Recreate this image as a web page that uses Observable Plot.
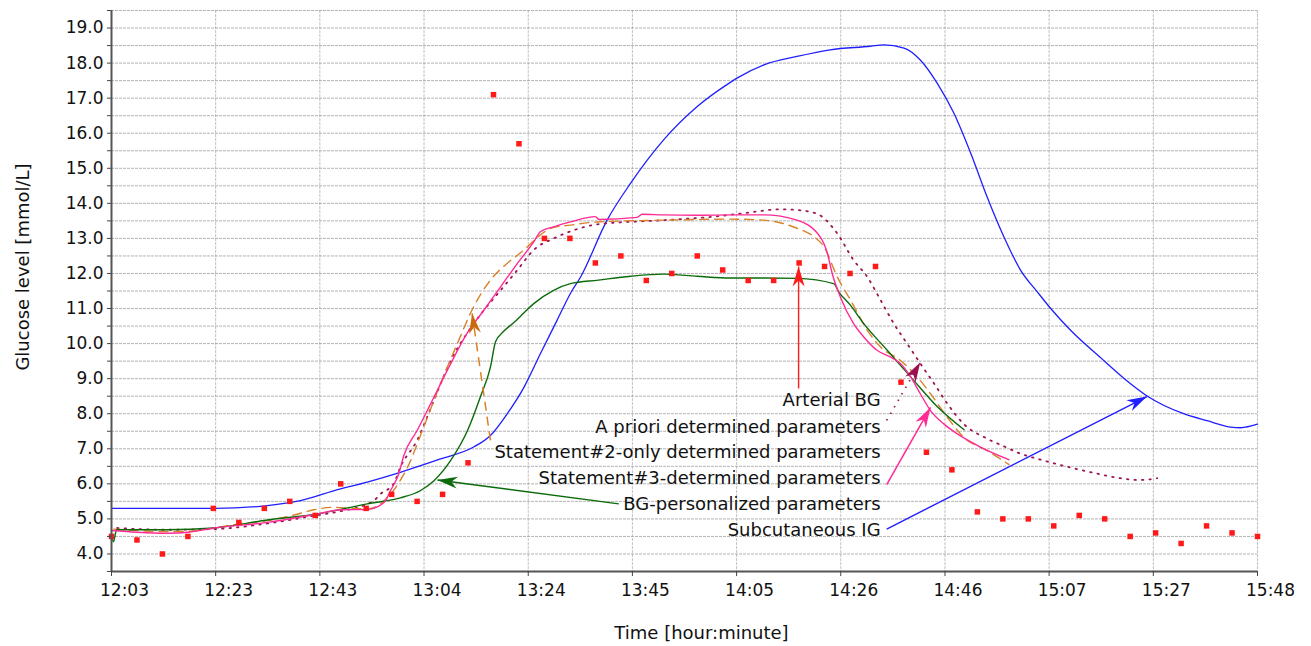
<!DOCTYPE html>
<html>
<head>
<meta charset="utf-8">
<script src="https://cdn.jsdelivr.net/npm/d3@7"></script>
<script src="https://cdn.jsdelivr.net/npm/@observablehq/plot@0.6"></script>
<style>
  html, body { margin: 0; padding: 0; background: #fff; }
</style>
</head>
<body>
<div id="chart"></div>
<script>
// ---------- DATA (x = minutes after 12:03, y = glucose mmol/L) ----------
const xTickMinutes = [0, 20.45, 40.91, 61.36, 81.82, 102.27, 122.73, 143.18, 163.64, 184.09, 204.55, 225];
const xTickLabels = ["12:03","12:23","12:43","13:04","13:24","13:45","14:05","14:26","14:46","15:07","15:27","15:48"];
const yMajorTicks = [4,5,6,7,8,9,10,11,12,13,14,15,16,17,18,19];

const arterialTimes = [0,5,10,15,20,25,30,35,40,45,50,55,60,65,70,75,80,85,90,95,100,105,110,115,120,125,130,135,140,145,150,155,160,165,170,175,180,185,190,195,200,205,210,215,220,225];
const arterialBG = [4.5,4.4,4.0,4.5,5.3,4.9,5.3,5.5,5.1,6.0,5.3,5.7,5.5,5.7,6.6,17.1,15.7,13.0,13.0,12.3,12.5,11.8,12.0,12.5,12.1,11.8,11.8,12.3,12.2,12.0,12.2,8.9,6.9,6.4,5.2,5.0,5.0,4.8,5.1,5.0,4.5,4.6,4.3,4.8,4.6,4.5];

const subcutaneousIG = [[0,5.3],[10,5.3],[20.1,5.3],[30.6,5.38],[37.1,5.52],[43.6,5.8],[50.2,6.05],[56.7,6.33],[64.6,6.71],[71.1,7.05],[74.4,7.38],[77.7,8.0],[81.0,8.76],[84.2,9.71],[87.5,10.67],[90.1,11.43],[92.1,11.9],[97.3,13.52],[101.9,14.57],[108.4,15.81],[115.0,16.76],[121.5,17.45],[122.8,17.57],[128.1,17.95],[134.6,18.19],[141.1,18.38],[149.0,18.48],[151.6,18.52],[155.6,18.43],[158.8,18.09],[162.1,17.43],[165.4,16.57],[168.7,15.43],[171.9,14.19],[175.2,13.05],[178.5,12.09],[181.8,11.47],[184.4,11.0],[188.3,10.38],[194.8,9.52],[199.1,8.97],[203.4,8.5],[210.5,8.0],[215.1,7.8],[219.7,7.62],[221.7,7.6],[225,7.7]];

const bgPersonalized = [[0,4.5],[0.4,4.35],[1.0,4.69],[10.9,4.69],[20.1,4.74],[30.6,4.97],[40.4,5.14],[50.2,5.43],[56.7,5.6],[60.7,5.81],[63.3,6.09],[66.6,6.67],[69.9,7.52],[72.4,8.47],[74.4,9.33],[75.4,10.05],[77.0,10.35],[79.0,10.6],[81.0,10.88],[82.9,11.14],[86.8,11.52],[90.1,11.71],[95.6,11.81],[101.9,11.92],[108.4,11.98],[115.0,11.92],[121.5,11.87],[128.1,11.87],[134.6,11.86],[141.8,11.71],[142.8,11.47],[145.1,11.09],[147.7,10.57],[152.3,9.81],[156.9,9.05],[162.2,8.19],[167.4,7.54]];

const statement3 = [[0,4.67],[5,4.62],[10.9,4.59],[15.1,4.62],[20.1,4.74],[30.6,4.9],[40.4,5.14],[45,5.26],[50.2,5.27],[53.5,5.47],[54.8,5.81],[56.4,6.29],[57.4,6.81],[60.0,7.52],[63.3,8.47],[66.6,9.43],[69.8,10.29],[73.1,10.95],[76.4,11.62],[79.7,12.29],[82.9,12.9],[84.2,13.19],[86.8,13.33],[90.1,13.47],[95.0,13.62],[95.7,13.54],[103.2,13.6],[104.2,13.69],[108.4,13.67],[115.0,13.66],[121.5,13.67],[128.1,13.67],[134.6,13.52],[139.2,13.03],[140.5,12.6],[141.5,12.0],[143.1,11.33],[145.7,10.57],[147.7,10.19],[150.3,9.81],[152.9,9.62],[154.9,9.43],[156.9,9.05],[158.8,8.57],[160.8,8.09],[163.4,7.71],[166.0,7.43],[170.6,7.05],[176.2,6.69]];

const statement2 = [[0.5,4.71],[10.9,4.64],[15.5,4.65],[20.1,4.74],[25.3,4.86],[30.6,4.95],[35.8,5.11],[39.7,5.26],[43.6,5.33],[47.6,5.3],[50.2,5.29],[54.8,5.71],[58.1,6.47],[61.3,7.62],[64.6,8.86],[67.9,10.0],[71.1,11.05],[74.4,11.81],[77.7,12.29],[81.0,12.67],[84.2,13.1],[86.5,13.3],[90.1,13.38],[95.4,13.47],[108.4,13.52],[121.5,13.55],[128.1,13.52],[134.6,13.29],[137.9,13.05],[139.9,12.76],[142.5,11.9],[145.1,11.24],[148.4,10.38],[151.0,9.9],[154.9,9.52],[158.2,9.05],[160.8,8.57],[164.1,7.9],[167.3,7.33],[171.9,6.95],[176.2,6.55]];

const aPriori = [[1.1,4.74],[10.9,4.69],[20.1,4.71],[30.6,4.87],[39.7,5.09],[45,5.22],[51.5,5.52],[52.8,5.71],[55.4,6.0],[56.7,6.47],[60.0,7.24],[63.3,8.38],[66.6,9.52],[69.8,10.29],[73.1,10.95],[76.4,11.52],[79.7,12.1],[82.9,12.67],[86.8,13.0],[90.1,13.2],[95.4,13.4],[108.4,13.52],[118.3,13.62],[124.8,13.73],[131.3,13.83],[134.6,13.81],[138.4,13.71],[142.5,13.14],[145.7,12.38],[148.4,11.9],[151.0,11.24],[153.6,10.57],[156.2,10.0],[158.8,9.43],[161.5,8.86],[164.1,8.29],[167.3,7.71],[171.9,7.29],[175.2,7.07],[178.5,6.86],[182.4,6.69],[187.6,6.49],[192.9,6.31],[198.1,6.16],[201.4,6.11],[203.4,6.12],[205.3,6.16]];

const labelNames = ["Arterial BG","A priori determined parameters","Statement#2-only determined parameters","Statement#3-determined parameters","BG-personalized parameters","Subcutaneous IG"];
const labelX = 151.0;
const labelY = [8.38, 7.62, 6.9, 6.16, 5.43, 4.67];
// arrow from label (start) to curve (end)
const arrowStart = [[134.9,8.72],[152.2,7.81],[74.4,7.24],[152.2,5.98],[99.6,5.43],[152.2,4.71]];
const arrowEnd   = [[134.9,12.2],[158.8,9.47],[70.8,10.86],[160.8,8.18],[64.0,6.11],[203.3,8.49]];

// ---------- STYLES ----------
const C = {
  red: "#ff1a1a", blue: "#1f1fff", green: "#0b6b0b", pink: "#ff2a95",
  orange: "#d9822b", orangeHead: "#c86a10", maroon: "#9b1552", maroonHead: "#9b1050"
};
const arrowStyle = [
  {stroke: C.red, head: C.red, dash: null, width: 1.4},
  {stroke: C.maroon, head: C.maroonHead, dash: "1.5,6", width: 1.8},
  {stroke: C.orange, head: C.orangeHead, dash: "9,6", width: 1.5},
  {stroke: C.pink, head: C.pink, dash: null, width: 1.5},
  {stroke: C.green, head: C.green, dash: null, width: 1.4},
  {stroke: C.blue, head: C.blue, dash: null, width: 1.4}
];

const W = 1311, H = 646, ML = 111, MR = 54, MT = 10, MB = 75;
const X0 = 0, X1 = 225, Y0 = 3.5, Y1 = 19.5;
const kx = (W - ML - MR) / (X1 - X0);
const ky = (H - MT - MB) / (Y1 - Y0);

const arrows = labelNames.map((name, i) => ({
  i, name,
  x1: arrowStart[i][0], y1: arrowStart[i][1],
  x2: arrowEnd[i][0], y2: arrowEnd[i][1],
  angle: Math.atan2((arrowEnd[i][0] - arrowStart[i][0]) * kx, (arrowEnd[i][1] - arrowStart[i][1]) * ky) * 180 / Math.PI
}));
const labels = labelNames.map((t, i) => ({t, x: labelX, y: labelY[i]}));
const arterial = arterialTimes.map((t, i) => ({t, v: arterialBG[i]}));

const headSymbol = {
  draw(ctx, size) {
    const L = 20, Wd = 6, N = 14;
    ctx.moveTo(0, 0);
    ctx.lineTo(-Wd, L);
    ctx.lineTo(0, N);
    ctx.lineTo(Wd, L);
    ctx.closePath();
  }
};

const yGridVals = d3.range(4, 19.51, 0.5);
const yTickVals = d3.range(3.5, 19.51, 0.5);

const px = d => d[0], py = d => d[1];

const marks = [
  Plot.gridY(yGridVals, {stroke: "#9a9a9a", strokeOpacity: 0.75, strokeDasharray: "3,1"}),
  Plot.gridX(xTickMinutes.slice(1), {stroke: "#9a9a9a", strokeOpacity: 0.6, strokeDasharray: "3,1"}),
  Plot.line(subcutaneousIG, {x: px, y: py, stroke: C.blue, strokeWidth: 1.3, curve: "monotone-x"}),
  Plot.line(aPriori, {x: px, y: py, stroke: C.maroon, strokeWidth: 1.8, strokeDasharray: "1.5,6", curve: "monotone-x"}),
  Plot.line(statement2, {x: px, y: py, stroke: C.orange, strokeWidth: 1.4, strokeDasharray: "9,6", curve: "monotone-x"}),
  Plot.line(bgPersonalized, {x: px, y: py, stroke: C.green, strokeWidth: 1.4, curve: "monotone-x"}),
  Plot.line(statement3, {x: px, y: py, stroke: C.pink, strokeWidth: 1.4, curve: "monotone-x"}),
  Plot.dot(arterial, {x: "t", y: "v", symbol: "square", r: 3.1, fill: C.red, stroke: "none"})
];
arrows.forEach(a => {
  const s = arrowStyle[a.i];
  marks.push(Plot.link([a], {x1: "x1", y1: "y1", x2: "x2", y2: "y2", stroke: s.stroke, strokeWidth: s.width, strokeDasharray: s.dash}));
  marks.push(Plot.dot([a], {x: "x2", y: "y2", symbol: headSymbol, rotate: "angle", fill: s.head, stroke: "none", r: 5}));
});
marks.push(
  Plot.text(labels, {x: "x", y: "y", text: "t", textAnchor: "end", lineAnchor: "middle", fontSize: 18, fill: "#111"}),
  Plot.ruleX([X0], {stroke: "#555", strokeWidth: 2}),
  Plot.ruleY([Y0], {stroke: "#555", strokeWidth: 2}),
  Plot.axisY(yTickVals, {tickSize: 4, tickPadding: 4, stroke: "#444", fontSize: 17, fill: "#111",
    tickFormat: d => Number.isInteger(d) ? d.toFixed(1) : "", label: null}),
  Plot.axisX(xTickMinutes, {tickSize: 5, stroke: "#444", tickFormat: () => "", label: null}),
  Plot.axisX(xTickMinutes, {tickSize: 0, tickPadding: 12, dx: 13, fontSize: 17, fill: "#111",
    tickFormat: d => xTickLabels[xTickMinutes.indexOf(d)], label: null}),
  Plot.text(["Time [hour:minute]"], {text: d => d, frameAnchor: "bottom", dx: 17, dy: 62, textAnchor: "middle", lineAnchor: "middle", fontSize: 18, fill: "#111"}),
  Plot.text(["Glucose level [mmol/L]"], {text: d => d, frameAnchor: "left", rotate: -90, dx: -88.5, dy: -24, textAnchor: "middle", lineAnchor: "middle", fontSize: 18, fill: "#111"})
);

const chart = Plot.plot({
  width: W, height: H,
  marginLeft: ML, marginRight: MR, marginTop: MT, marginBottom: MB,
  x: {domain: [X0, X1], axis: null},
  y: {domain: [Y0, Y1], axis: null},
  style: {fontFamily: "DejaVu Sans", fontSize: "17px", color: "#111", background: "#fff", overflow: "visible"},
  marks
});
document.getElementById("chart").appendChild(chart);
</script>
</body>
</html>
